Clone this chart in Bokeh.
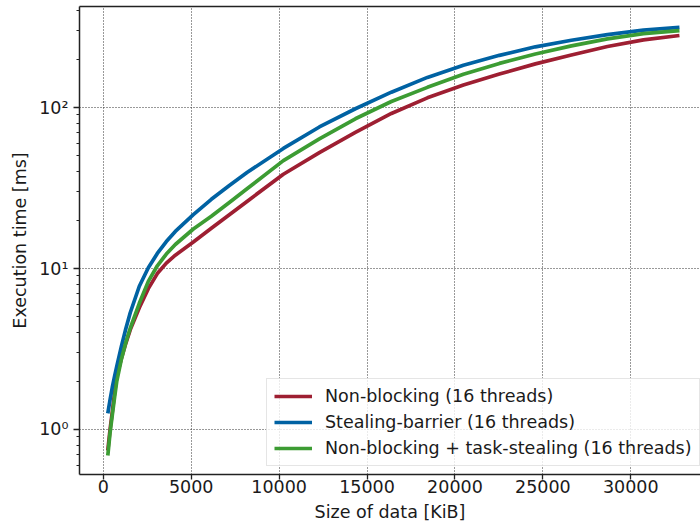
from bokeh.plotting import figure
from bokeh.models import (LinearAxis, Range1d, LogTicker, SingleIntervalTicker,
                          CustomJSTickFormatter, Legend, LegendItem, ColumnDataSource)
from bokeh.embed import file_html
from bokeh.resources import INLINE

size_kib = [256, 384, 512, 640, 768, 1024, 1280, 1536, 2048, 2560, 3072, 3584, 4096,
            5120, 6144, 7168, 8192, 10240, 12288, 14336, 16384, 18432, 20480, 22528,
            24576, 26624, 28672, 30720, 32768]
non_blocking = [0.74, 1.0, 1.29, 1.68, 2.14, 2.75, 3.43, 4.17, 5.71, 7.5, 9.3, 10.8, 12.1,
                14.6, 17.8, 21.6, 26.2, 38.5, 52.5, 70.0, 91.8, 114.8, 138, 161.4,
                186.6, 211.8, 239.3, 263, 280]
stealing_barrier = [1.26, 1.53, 1.83, 2.14, 2.47, 3.27, 4.22, 5.33, 7.76, 10.1, 12.4, 14.7, 17.0,
                    21.6, 26.9, 32.8, 39.6, 55.7, 75.7, 98.2, 124.5, 153.8, 183.2, 210.9,
                    238.2, 261.8, 283.8, 302.7, 314.8]
nb_task_stealing = [0.69, 0.955, 1.23, 1.58, 2.0, 2.72, 3.47, 4.27, 6.08, 8.32, 10.4, 12.3, 14.1,
                    17.6, 21.1, 25.7, 31.4, 46.8, 63.8, 85.1, 108.9, 133.4, 160.7, 187.9,
                    214.8, 241.5, 266.7, 287.7, 300.6]

series_labels = ["Non-blocking (16 threads)", "Stealing-barrier (16 threads)",
                 "Non-blocking + task-stealing (16 threads)"]
colors = ["#9e1f32", "#0062a3", "#3c9c33"]

FONT = "DejaVu Sans"
TXT = "#1a1a1a"
FS = "17.5px"

p = figure(width=700, height=528, output_backend="svg", toolbar_location=None,
           y_axis_type="log",
           x_range=Range1d(-1354, 33965), y_range=Range1d(0.5254, 424),
           min_border_left=79, min_border_right=0, min_border_top=6, min_border_bottom=54)
p.outline_line_color = None
p.background_fill_color = "white"
p.border_fill_color = "white"

src = ColumnDataSource(dict(x=size_kib, a=non_blocking, b=stealing_barrier, c=nb_task_stealing))
r1 = p.line("x", "a", source=src, line_color=colors[0], line_width=3.7, line_join="round")
r2 = p.line("x", "b", source=src, line_color=colors[1], line_width=3.7, line_join="round")
r3 = p.line("x", "c", source=src, line_color=colors[2], line_width=3.7, line_join="round")

xa = p.xaxis[0]
xa.ticker = SingleIntervalTicker(interval=5000, num_minor_ticks=0)
xa.axis_label = "Size of data [KiB]"
ya = p.yaxis[0]
ya.ticker = LogTicker(num_minor_ticks=10, desired_num_ticks=3)
ya.formatter = CustomJSTickFormatter(code="""
const sup = {"-1":"\u207b\u00b9","0":"\u2070","1":"\u00b9","2":"\u00b2","3":"\u00b3"};
const e = Math.round(Math.log10(tick));
return "10" + sup[String(e)];
""")
ya.axis_label = "Execution time [ms]"
for ax in (xa, ya):
    ax.axis_line_color = "#222222"
    ax.axis_line_width = 1.5
    ax.major_tick_line_color = "#222222"
    ax.major_tick_line_width = 1.3
    ax.major_tick_in = 0
    ax.major_tick_out = 6
    ax.minor_tick_in = 0
    ax.minor_tick_out = 3
    ax.minor_tick_line_color = "#222222"
    ax.major_label_text_font = FONT
    ax.major_label_text_font_size = FS
    ax.major_label_text_color = TXT
    ax.axis_label_text_font = FONT
    ax.axis_label_text_font_size = FS
    ax.axis_label_text_font_style = "normal"
    ax.axis_label_text_color = TXT
xa.minor_tick_line_color = None
xa.major_tick_out = 5
xa.major_label_standoff = 0
xa.axis_label_standoff = 6
ya.major_label_standoff = 5
ya.axis_label_standoff = 6

top = LinearAxis(major_tick_line_color=None, minor_tick_line_color=None,
                 major_tick_out=0, major_tick_in=0, major_label_standoff=0,
                 major_label_text_font_size="0px", axis_line_color="#222222",
                 axis_line_width=1.5, major_label_text_color=None)
p.add_layout(top, "above")

for g in p.grid:
    g.grid_line_color = "#333333"
    g.grid_line_dash = "1 2"
    g.grid_line_width = 1
p.ygrid[0].ticker = LogTicker(num_minor_ticks=10, desired_num_ticks=3)
p.xgrid[0].ticker = SingleIntervalTicker(interval=5000)

legend = Legend(items=[LegendItem(label=series_labels[0], renderers=[r1]),
                       LegendItem(label=series_labels[1], renderers=[r2]),
                       LegendItem(label=series_labels[2], renderers=[r3])],
                location=(187, 8))
legend.label_text_font = FONT
legend.label_text_font_size = FS
legend.label_text_color = TXT
legend.glyph_width = 38
legend.glyph_height = 20
legend.label_height = 20
legend.label_standoff = 13
legend.spacing = 6
legend.padding = 7
legend.margin = 0
legend.border_line_color = "#cccccc"
legend.border_line_width = 1
legend.background_fill_alpha = 0.8
p.add_layout(legend, "center")

open("out.html", "w").write(file_html(p, INLINE))
